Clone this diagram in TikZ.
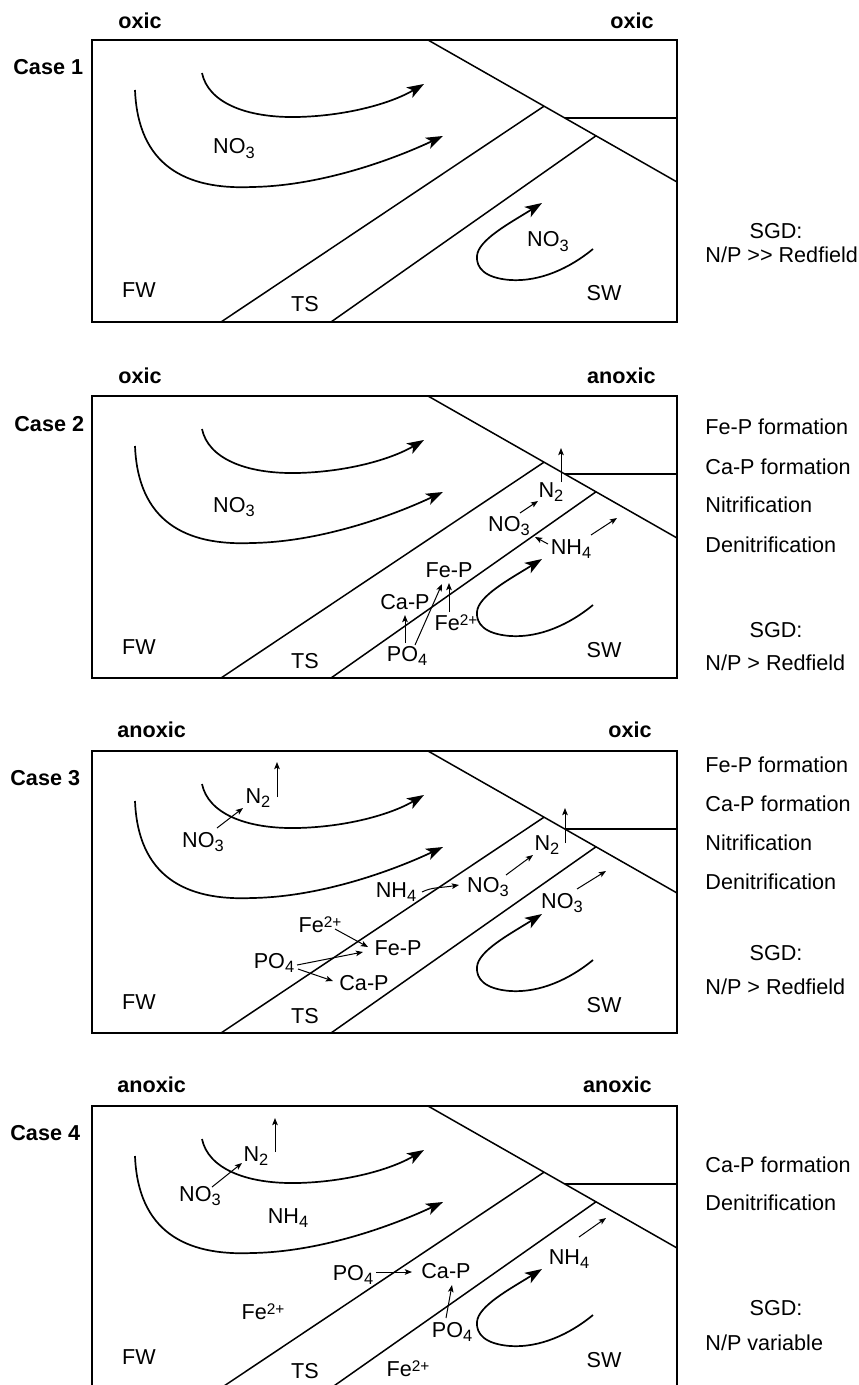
\documentclass[tikz,border=0pt]{standalone}
\usepackage{fontspec}
\setmainfont{Liberation Sans}
\usetikzlibrary{arrows.meta}
\newcommand{\msub}[1]{\raisebox{-2.2pt}{\fontsize{8.2}{8.2}\selectfont #1}}
\newcommand{\msup}[1]{\raisebox{2.5pt}{\fontsize{7.7}{7.7}\selectfont #1}}
\tikzset{
  frame/.style={line width=1pt},
  zone/.style={line width=0.75pt},
  flow/.style={line width=0.85pt, -{Stealth[length=8.5pt,width=6pt,inset=2.2pt]}},
  rx/.style={line width=0.5pt, -{Stealth[length=3.6pt,width=2.8pt,inset=0.8pt]}},
  lbl/.style={inner sep=0pt, anchor=base, font=\fontsize{10.8}{12}\selectfont},
  lblw/.style={lbl, anchor=base west},
  hdrw/.style={inner sep=0pt, anchor=base west, font=\fontsize{10.8}{12}\selectfont\bfseries},
  hdre/.style={inner sep=0pt, anchor=base east, font=\fontsize{10.8}{12}\selectfont\bfseries},
}
% #1 name prefix, #2 top of box
\newcommand{\panelbox}[2]{%
\begin{scope}[shift={(0,#2)}]
  \draw[frame] (92,0) rectangle (677,282);
  \coordinate (#1d0) at (428,0);
  \coordinate (#1d1) at (677,142);
  \coordinate (#1ja) at (544,66.2);
  \coordinate (#1jb) at (565,78);
  \coordinate (#1jc) at (596,95.8);
  \coordinate (#1ub) at (221,282);
  \coordinate (#1lb) at (331,282);
  \coordinate (#1he) at (677,78);
  \draw[zone] (#1d0) -- (#1d1);
  \draw[zone] (#1jb) -- (#1he);
  \draw[zone] (#1ub) -- (#1ja);
  \draw[zone] (#1lb) -- (#1jc);
  \draw[flow] (202,33) .. controls (208,62) and (245,78) .. (297,77)
              .. controls (345,76) and (390,64) .. (424,44);
  \draw[flow] (135,50) .. controls (138,125) and (185,150) .. (252,147)
              .. controls (320,146) and (392,120) .. (443,96);
  \draw[flow] (593,209) .. controls (570,228) and (540,242) .. (510,240)
              .. controls (485,238) and (476,228) .. (477,216)
              .. controls (478,200) and (510,183) .. (542,163);
  \node[lbl] (#1fw) at (139,258) {FW};
  \node[lbl] (#1ts) at (305,272) {TS};
  \node[lbl] (#1sw) at (604,261) {SW};
\end{scope}}

\begin{document}
\begin{tikzpicture}[x=0.5pt,y=-0.5pt]
\useasboundingbox (0,0) rectangle (858,1385);

% ---------------- Case 1 ----------------
\panelbox{a}{40}
\begin{scope}[shift={(0,40)}]
  \node[hdrw] (ahl) at (118,-11) {oxic};
  \node[hdre] (ahr) at (654,-11) {oxic};
  \node[hdrw] (acase) at (13,35) {Case 1};
  \node[lbl] (ano1) at (234,114) {NO\msub{3}};
  \node[lbl] (ano2) at (548,207) {NO\msub{3}};
\end{scope}
\node[lbl] (asgd) at (776,239) {SGD:};
\node[lblw] (anp) at (705,263) {N/P >{}> Redfield};

% ---------------- Case 2 ----------------
\panelbox{b}{396}
\begin{scope}[shift={(0,396)}]
  \node[hdrw] (bhl) at (118,-13) {oxic};
  \node[hdre] (bhr) at (656,-13) {anoxic};
  \node[hdrw] (bcase) at (14,35) {Case 2};
  \node[lbl] (bno1) at (234,116) {NO\msub{3}};
  \node[lbl] (bn2) at (551,101) {N\msub{2}};
  \node[lbl] (bno2) at (509,135) {NO\msub{3}};
  \node[lbl] (bnh) at (571,158) {NH\msub{4}};
  \node[lbl] (bfep) at (449,181) {Fe-P};
  \node[lbl] (bcap) at (405,213) {Ca-P};
  \node[lbl] (bfe) at (456,234) {Fe\msup{2+}};
  \node[lbl] (bpo) at (407,265) {PO\msub{4}};
  \coordinate (bv0) at (561,86);  \coordinate (bv1) at (561,52);
  \coordinate (br1a) at (520,117); \coordinate (br1b) at (538,105);
  \coordinate (br2a) at (548,148); \coordinate (br2b) at (535,141);
  \coordinate (br3a) at (591,139); \coordinate (br3b) at (617,122);
  \coordinate (br4a) at (405,247); \coordinate (br4b) at (405,219);
  \coordinate (br5a) at (415,249); \coordinate (br5b) at (442,188);
  \coordinate (br6a) at (449,216); \coordinate (br6b) at (449,187);
  \draw[rx] (bv0) -- (bv1);
  \draw[rx] (br1a) -- (br1b);
  \draw[rx] (br2a) -- (br2b);
  \draw[rx] (br3a) -- (br3b);
  \draw[rx] (br4a) -- (br4b);
  \draw[rx] (br5a) -- (br5b);
  \draw[rx] (br6a) -- (br6b);
\end{scope}
\node[lblw] (bt1) at (705,434.5) {Fe-P formation};
\node[lblw] (bt2) at (705,474.5) {Ca-P formation};
\node[lblw] (bt3) at (705,512.5) {Nitrification};
\node[lblw] (bt4) at (705,552.5) {Denitrification};
\node[lbl] (bsgd) at (776,637.5) {SGD:};
\node[lblw] (bnp) at (705,670.5) {N/P > Redfield};

% ---------------- Case 3 ----------------
\panelbox{c}{751}
\begin{scope}[shift={(0,751)}]
  \node[hdrw] (chl) at (117,-14) {anoxic};
  \node[hdre] (chr) at (652,-14) {oxic};
  \node[hdrw] (ccase) at (10,34) {Case 3};
  \node[lbl] (cn2a) at (258,52) {N\msub{2}};
  \node[lbl] (cnoa) at (203,96) {NO\msub{3}};
  \node[lbl] (cnh) at (396,146) {NH\msub{4}};
  \node[lbl] (cnob) at (488,141) {NO\msub{3}};
  \node[lbl] (cn2b) at (547,99) {N\msub{2}};
  \node[lbl] (cnoc) at (562,157) {NO\msub{3}};
  \node[lbl] (cfe) at (320,181) {Fe\msup{2+}};
  \node[lbl] (cfep) at (398,204) {Fe-P};
  \node[lbl] (cpo) at (274,217) {PO\msub{4}};
  \node[lbl] (ccap) at (364,239) {Ca-P};
  \coordinate (cv1a) at (277,46); \coordinate (cv1b) at (277,11);
  \coordinate (cr1a) at (217,77); \coordinate (cr1b) at (243,57);
  \coordinate (cr2a) at (422,141); \coordinate (cr2b) at (459,134);
  \coordinate (cr3a) at (506,124); \coordinate (cr3b) at (533,104);
  \coordinate (cv2a) at (565,92); \coordinate (cv2b) at (565,57);
  \coordinate (cr4a) at (577,138); \coordinate (cr4b) at (606,120);
  \coordinate (cr5a) at (335,178); \coordinate (cr5b) at (368,196);
  \coordinate (cr6a) at (297,214); \coordinate (cr6b) at (363,201);
  \coordinate (cr7a) at (298,218); \coordinate (cr7b) at (333,230);
  \draw[rx] (cv1a) -- (cv1b);
  \draw[rx] (cr1a) -- (cr1b);
  \draw[rx] (cr2a) .. controls (432,136) and (440,137) .. (cr2b);
  \draw[rx] (cr3a) -- (cr3b);
  \draw[rx] (cv2a) -- (cv2b);
  \draw[rx] (cr4a) -- (cr4b);
  \draw[rx] (cr5a) -- (cr5b);
  \draw[rx] (cr6a) -- (cr6b);
  \draw[rx] (cr7a) -- (cr7b);
\end{scope}
\node[lblw] (ct1) at (705,772.5) {Fe-P formation};
\node[lblw] (ct2) at (705,811.5) {Ca-P formation};
\node[lblw] (ct3) at (705,850.5) {Nitrification};
\node[lblw] (ct4) at (705,889.5) {Denitrification};
\node[lbl] (csgd) at (776,960.5) {SGD:};
\node[lblw] (cnp) at (705,994.5) {N/P > Redfield};

% ---------------- Case 4 ----------------
\panelbox{d}{1106}
\begin{scope}[shift={(0,1106)}]
  \node[hdrw] (dhl) at (117,-14) {anoxic};
  \node[hdre] (dhr) at (652,-14) {anoxic};
  \node[hdrw] (dcase) at (10,34) {Case 4};
  \node[lbl] (dn2) at (256,55) {N\msub{2}};
  \node[lbl] (dno) at (200,95) {NO\msub{3}};
  \node[lbl] (dnha) at (288,117) {NH\msub{4}};
  \node[lbl] (dpoa) at (353,174) {PO\msub{4}};
  \node[lbl] (dcap) at (446,172) {Ca-P};
  \node[lbl] (dpob) at (452,231) {PO\msub{4}};
  \node[lbl] (dfea) at (263,213) {Fe\msup{2+}};
  \node[lbl] (dfeb) at (408,270) {Fe\msup{2+}};
  \node[lbl] (dnhb) at (569,158) {NH\msub{4}};
  \coordinate (dv1a) at (275,46); \coordinate (dv1b) at (275,12);
  \coordinate (dr1a) at (212,81); \coordinate (dr1b) at (242,57);
  \coordinate (dr2a) at (376,166); \coordinate (dr2b) at (412,166);
  \coordinate (dr3a) at (446,212); \coordinate (dr3b) at (452,179);
  \coordinate (dr4a) at (579,131); \coordinate (dr4b) at (606,112);
  \draw[rx] (dv1a) -- (dv1b);
  \draw[rx] (dr1a) -- (dr1b);
  \draw[rx] (dr2a) -- (dr2b);
  \draw[rx] (dr3a) -- (dr3b);
  \draw[rx] (dr4a) -- (dr4b);
\end{scope}
\node[lblw] (dt1) at (705,1172.5) {Ca-P formation};
\node[lblw] (dt2) at (705,1210.5) {Denitrification};
\node[lbl] (dsgd) at (776,1315.5) {SGD:};
\node[lblw] (dnp) at (705,1350.5) {N/P variable};
\end{tikzpicture}
\end{document}
